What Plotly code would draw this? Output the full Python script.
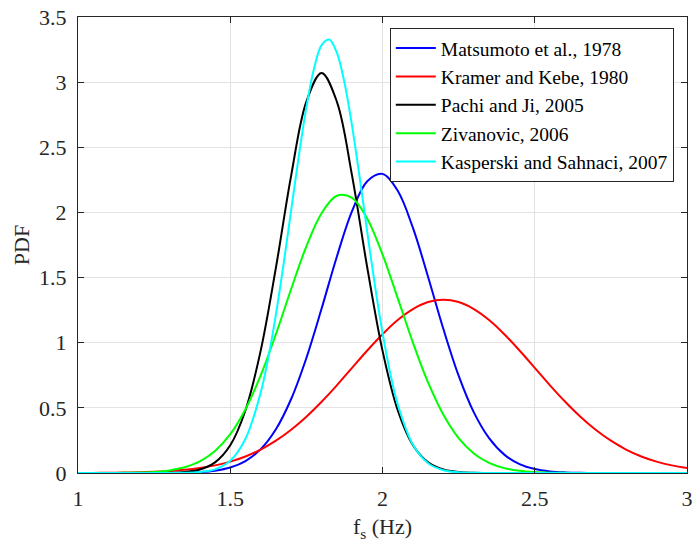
import plotly.graph_objects as go

# Step frequency grid (Hz)
freq = [1.00, 1.05, 1.10, 1.15, 1.20, 1.25, 1.30, 1.35, 1.40, 1.45,
        1.50, 1.55, 1.60, 1.65, 1.70, 1.75, 1.80, 1.85, 1.90, 1.95,
        2.00, 2.05, 2.10, 2.15, 2.20, 2.25, 2.30, 2.35, 2.40, 2.45,
        2.50, 2.55, 2.60, 2.65, 2.70, 2.75, 2.80, 2.85, 2.90, 2.95, 3.00]

# Finer grid for the narrowest density (Kasperski and Sahnaci)
freq_fine = [1.00, 1.05, 1.10, 1.15, 1.20, 1.25, 1.30, 1.35, 1.40, 1.45,
             1.50, 1.55, 1.60, 1.625, 1.65, 1.675, 1.70, 1.725, 1.75, 1.775,
             1.80, 1.825, 1.85, 1.875, 1.90, 1.925, 1.95, 1.975, 2.00, 2.025,
             2.05, 2.10, 2.15, 2.20, 2.25, 2.30, 2.35, 2.40, 2.45, 2.50,
             2.55, 2.60, 2.65, 2.70, 2.75, 2.80, 2.85, 2.90, 2.95, 3.00]

# Probability density of pacing frequency for each study
matsumoto = [0.0, 0.0, 0.0, 0.00002, 0.00007, 0.00026, 0.00084, 0.0025, 0.0070, 0.018,
             0.0424, 0.0919, 0.183, 0.336, 0.568, 0.883, 1.262, 1.660, 2.010, 2.240,
             2.296, 2.166, 1.881, 1.503, 1.105, 0.747, 0.465, 0.267, 0.141, 0.0682,
             0.0304, 0.0125, 0.0047, 0.0016, 0.0005, 0.00015, 0.00004, 0.00001, 0.0, 0.0, 0.0]
kramer = [0.00045, 0.00086, 0.0016, 0.0029, 0.0051, 0.0088, 0.0148, 0.0240, 0.0380, 0.0584,
          0.0874, 0.127, 0.180, 0.248, 0.332, 0.432, 0.547, 0.673, 0.807, 0.940,
          1.065, 1.174, 1.258, 1.312, 1.330, 1.312, 1.258, 1.174, 1.065, 0.940,
          0.807, 0.673, 0.547, 0.432, 0.332, 0.248, 0.180, 0.127, 0.0874, 0.0584, 0.0380]
pachi = [0.0, 0.0, 0.0, 0.00001, 0.00007, 0.00039, 0.0019, 0.0076, 0.0268, 0.0814,
         0.213, 0.482, 0.939, 1.576, 2.283, 2.851, 3.070, 2.851, 2.283, 1.576,
         0.939, 0.482, 0.213, 0.0814, 0.0268, 0.0076, 0.0019, 0.00039, 0.00007, 0.00001,
         0.0, 0.0, 0.0, 0.0, 0.0, 0.0, 0.0, 0.0, 0.0, 0.0, 0.0]
zivanovic = [0.00004, 0.00013, 0.00042, 0.0012, 0.0034, 0.0085, 0.0200, 0.0437, 0.0891, 0.169,
             0.298, 0.490, 0.750, 1.066, 1.412, 1.740, 1.994, 2.128, 2.112, 1.952,
             1.678, 1.342, 1.000, 0.693, 0.447, 0.268, 0.150, 0.0777, 0.0376, 0.0169,
             0.0071, 0.0028, 0.0010, 0.00034, 0.0001, 0.00003, 0.0, 0.0, 0.0, 0.0, 0.0]
kasperski = [0.0, 0.0, 0.0, 0.0, 0.000005, 0.00004, 0.00027, 0.0015, 0.0071, 0.0282,
             0.094, 0.263, 0.617, 0.885, 1.217, 1.601, 2.016, 2.431, 2.807, 3.103,
             3.284, 3.327, 3.227, 2.997, 2.664, 2.268, 1.848, 1.442, 1.077, 0.770,
             0.527, 0.217, 0.0749, 0.0217, 0.0053, 0.0011, 0.0002, 0.00003, 0.0, 0.0,
             0.0, 0.0, 0.0, 0.0, 0.0, 0.0, 0.0, 0.0, 0.0, 0.0]

series = [
    ("Matsumoto et al., 1978", freq, matsumoto, "#0000ff"),
    ("Kramer and Kebe, 1980", freq, kramer, "#ff0000"),
    ("Pachi and Ji, 2005", freq, pachi, "#000000"),
    ("Zivanovic, 2006", freq, zivanovic, "#00ff00"),
    ("Kasperski and Sahnaci, 2007", freq_fine, kasperski, "#00ffff"),
]

x_ticks = [1, 1.5, 2, 2.5, 3]
y_ticks = [0, 0.5, 1, 1.5, 2, 2.5, 3, 3.5]

FONT = "Liberation Serif, Times New Roman, serif"
AX = "#262626"

fig = go.Figure()
for name, xs, vals, color in series:
    fig.add_trace(go.Scatter(
        x=xs, y=vals, mode="lines", name=name,
        line=dict(color=color, width=2, shape="spline", smoothing=1.0),
    ))

axis_common = dict(
    showline=True, linecolor=AX, linewidth=1, mirror="ticks",
    ticks="inside", ticklen=6, tickwidth=1, tickcolor=AX,
    showgrid=True, gridcolor="#e3e3e3", gridwidth=1,
    zeroline=False, tickfont=dict(family=FONT, size=22, color=AX),
)

fig.update_layout(
    width=698, height=546,
    margin=dict(l=78, r=5, t=14, b=73),
    paper_bgcolor="white", plot_bgcolor="white",
    font=dict(family=FONT, color=AX),
    xaxis=dict(range=[1, 3], tickvals=x_ticks, ticktext=[str(v) for v in x_ticks],
               ticklabelstandoff=6,
               title=dict(text="f<sub>s</sub> (Hz)", font=dict(family=FONT, size=22, color=AX), standoff=8),
               **axis_common),
    yaxis=dict(range=[0, 3.5], tickvals=y_ticks, ticktext=[f"{v:g}" for v in y_ticks],
               ticklabelstandoff=6,
               title=dict(text="PDF", font=dict(family=FONT, size=22, color=AX), standoff=3),
               **axis_common),
    legend=dict(
        x=0.512, y=0.976, xanchor="left", yanchor="top",
        bgcolor="white", bordercolor=AX, borderwidth=1,
        font=dict(family=FONT, size=19.5, color="#000000"),
        tracegroupgap=0, itemwidth=40,
    ),
    showlegend=True,
)

fig.write_html("out.html")
